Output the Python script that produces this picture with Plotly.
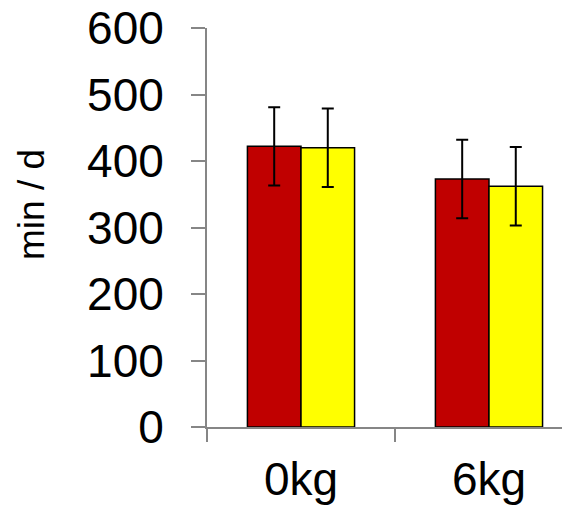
import plotly.graph_objects as go

categories = ["0kg", "6kg"]
series_a = [422, 373]
series_a_err = [59, 59]
series_b = [420, 362]
series_b_err = [59, 59]
y_ticks = [0, 100, 200, 300, 400, 500, 600]

GRAY = "#868686"
FONT = "Liberation Sans, Arial, sans-serif"

# page body has an 8px default margin; figure laid out accordingly
W, H = 562, 504
L, T, B = 199, 20, 85
PW, PH = W - L, H - T - B

fig = go.Figure()
fig.add_trace(go.Bar(
    x=categories, y=series_a,
    marker=dict(color="#C00000", line=dict(color="black", width=1.5)),
    error_y=dict(type="data", array=series_a_err, color="black", thickness=2, width=6),
))
fig.add_trace(go.Bar(
    x=categories, y=series_b,
    marker=dict(color="#FFFF00", line=dict(color="black", width=1.5)),
    error_y=dict(type="data", array=series_b_err, color="black", thickness=2, width=6),
))

fig.update_layout(
    width=W, height=H,
    margin=dict(l=L, r=0, t=T, b=B, pad=0),
    paper_bgcolor="white", plot_bgcolor="white",
    showlegend=False,
    barmode="group", bargap=0.43, bargroupgap=0,
    font=dict(family=FONT, color="black"),
    xaxis=dict(
        type="category", range=[-0.5, 1.431], automargin=False,
        showline=True, linecolor=GRAY, linewidth=2,
        ticks="outside", tickson="boundaries", ticklen=13, tickcolor=GRAY, tickwidth=2,
        tickfont=dict(size=46, family=FONT, color="black"),
        ticklabelstandoff=11, ticklabeloverflow="allow",
        showgrid=False, zeroline=False,
    ),
    yaxis=dict(
        range=[0, 600], tickvals=y_ticks, automargin=False,
        showline=True, linecolor=GRAY, linewidth=2,
        ticks="outside", ticklen=14, tickcolor=GRAY, tickwidth=2,
        tickfont=dict(size=46, family=FONT, color="black"),
        ticklabelstandoff=18, ticklabeloverflow="allow",
        showgrid=False, zeroline=False,
    ),
    annotations=[dict(
        text="min / d", textangle=-90,
        xref="paper", yref="paper",
        x=(23 - L) / PW, y=(T + PH - 197) / PH,
        xanchor="center", yanchor="middle",
        showarrow=False,
        font=dict(size=37, family=FONT, color="black"),
    )],
)

fig.write_html("out.html")
